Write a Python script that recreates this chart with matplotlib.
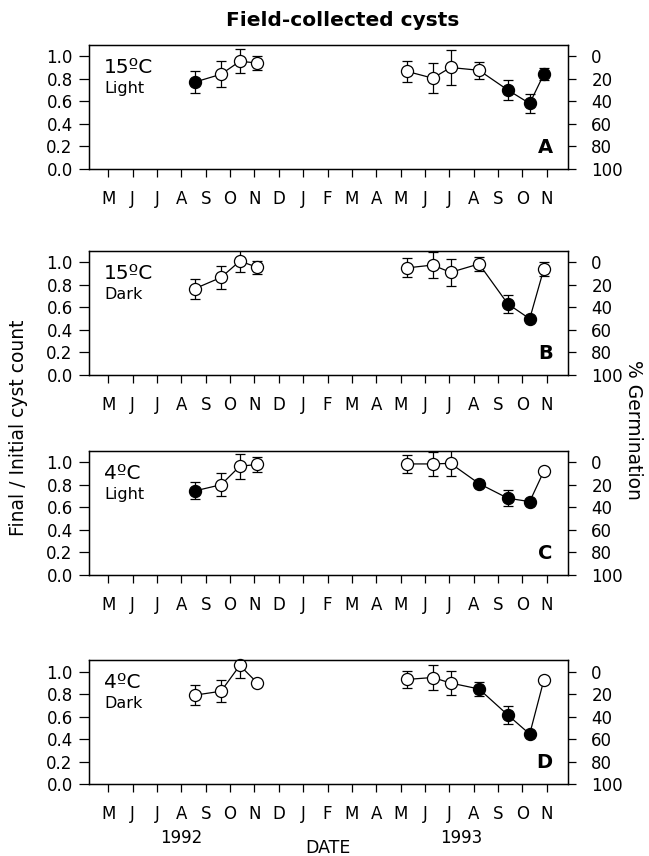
import matplotlib
matplotlib.use("Agg")
import matplotlib.pyplot as plt
import matplotlib.transforms as mtrans

# month ticks, May 1992 .. Nov 1993
month_labels = ['M', 'J', 'J', 'A', 'S', 'O', 'N', 'D', 'J', 'F',
                'M', 'A', 'M', 'J', 'J', 'A', 'S', 'O', 'N']
# sampling dates, in months after 1 May 1992
dates = [3.55, 4.63, 5.40, 6.12, 12.27, 13.32, 14.05, 15.22, 16.40, 17.30, 17.88]
n_1992 = 4  # first four samples are 1992

# final / initial cyst count, error, filled marker
a_val = [0.77, 0.84, 0.955, 0.94, 0.865, 0.805, 0.90, 0.875, 0.70, 0.58, 0.84]
a_err = [0.095, 0.115, 0.105, 0.06, 0.09, 0.135, 0.155, 0.078, 0.09, 0.085, 0.055]
a_fill = [1, 0, 0, 0, 0, 0, 0, 0, 1, 1, 1]

b_val = [0.765, 0.865, 1.01, 0.955, 0.95, 0.975, 0.91, 0.985, 0.63, 0.497, 0.94]
b_err = [0.09, 0.104, 0.096, 0.06, 0.084, 0.117, 0.123, 0.06, 0.077, 0.0, 0.06]
b_fill = [0, 0, 0, 0, 0, 0, 0, 0, 1, 1, 0]

c_val = [0.745, 0.80, 0.965, 0.98, 0.985, 0.985, 0.99, 0.81, 0.68, 0.65, 0.92]
c_err = [0.076, 0.10, 0.11, 0.07, 0.08, 0.11, 0.115, 0.03, 0.073, 0.0, 0.0]
c_fill = [1, 0, 0, 0, 0, 0, 0, 1, 1, 1, 0]

d_val = [0.79, 0.825, 1.055, 0.898, 0.93, 0.947, 0.898, 0.845, 0.614, 0.444, 0.924]
d_err = [0.089, 0.098, 0.11, 0.0, 0.073, 0.111, 0.11, 0.066, 0.077, 0.0, 0.0]
d_fill = [0, 0, 0, 0, 0, 0, 0, 1, 1, 1, 0]

panels = [
    ("15ºC", "Light", "A", a_val, a_err, a_fill),
    ("15ºC", "Dark", "B", b_val, b_err, b_fill),
    ("4ºC", "Light", "C", c_val, c_err, c_fill),
    ("4ºC", "Dark", "D", d_val, d_err, d_fill),
]

W, H = 649, 856
fig = plt.figure(figsize=(W / 100, H / 100), dpi=100)

left = 89.3 / W
width = (567.7 - 89.3) / W
height = 123.7 / H
bottoms_px = [168.7, 374.7, 574.7, 784.0]

for (temp, light, letter, val, err, fill), bpx in zip(panels, bottoms_px):
    ax = fig.add_axes([left, 1 - bpx / H, width, height])
    for seg in (slice(0, n_1992), slice(n_1992, len(dates))):
        ax.plot(dates[seg], val[seg], color='black', lw=0.9, zorder=2)
    ax.errorbar(dates, val, yerr=err, fmt='none', ecolor='black',
                elinewidth=0.9, capsize=3.6, capthick=0.9, zorder=1)
    for x, y, f in zip(dates, val, fill):
        ax.plot(x, y, 'o', ms=8.7, mec='black', mew=0.9,
                mfc='black' if f else 'white', zorder=3, clip_on=False)

    ax.set_xlim(-0.78, 18.86)
    ax.set_ylim(0, 1.1)
    ax.set_xticks(range(len(month_labels)))
    ax.set_xticklabels(month_labels)
    ax.set_yticks([0, 0.2, 0.4, 0.6, 0.8, 1.0])
    ax.set_yticklabels(['0.0', '0.2', '0.4', '0.6', '0.8', '1.0'])
    ax.tick_params(axis='x', direction='out', length=6, width=0.9,
                   labelsize=12, pad=9)
    ax.tick_params(axis='y', direction='out', length=7, width=0.9,
                   labelsize=12, pad=5)
    for s in ax.spines.values():
        s.set_linewidth(1.0)

    ax2 = ax.twinx()
    ax2.set_ylim(100, -10)
    ax2.set_yticks([0, 20, 40, 60, 80, 100])
    ax2.tick_params(axis='y', direction='out', length=6, width=0.9,
                    labelsize=12, pad=11)

    ax.text(15 / 478.4, 1 - 28 / 123.7, temp, transform=ax.transAxes,
            fontsize=14.5, ha='left', va='baseline')
    ax.text(15 / 478.4, 1 - 48 / 123.7, light, transform=ax.transAxes,
            fontsize=11.5, ha='left', va='baseline')
    ax.text(1 - 15 / 478.4, 16 / 123.7, letter, transform=ax.transAxes,
            fontsize=14, fontweight='bold', ha='right', va='baseline')

# year and DATE labels under the last panel
tr = mtrans.blended_transform_factory(ax.transData, fig.transFigure)
ax.text(3.0, 1 - 838 / H, '1992', transform=tr, fontsize=12,
        ha='center', va='center')
ax.text(14.5, 1 - 838 / H, '1993', transform=tr, fontsize=12,
        ha='center', va='center')
ax.text(9.0, 1 - 848 / H, 'DATE', transform=tr, fontsize=12.5,
        ha='center', va='center')

fig.text(342.5 / W, 1 - 20 / H, 'Field-collected cysts', fontsize=14.5,
         fontweight='bold', ha='center', va='center')
fig.text(19 / W, 1 - 428 / H, 'Final / Initial cyst count', fontsize=13.5,
         rotation=90, ha='center', va='center')
fig.text(633 / W, 1 - 430 / H, '% Germination', fontsize=13.5,
         rotation=270, ha='center', va='center')

fig.savefig('out.png', dpi=100)
